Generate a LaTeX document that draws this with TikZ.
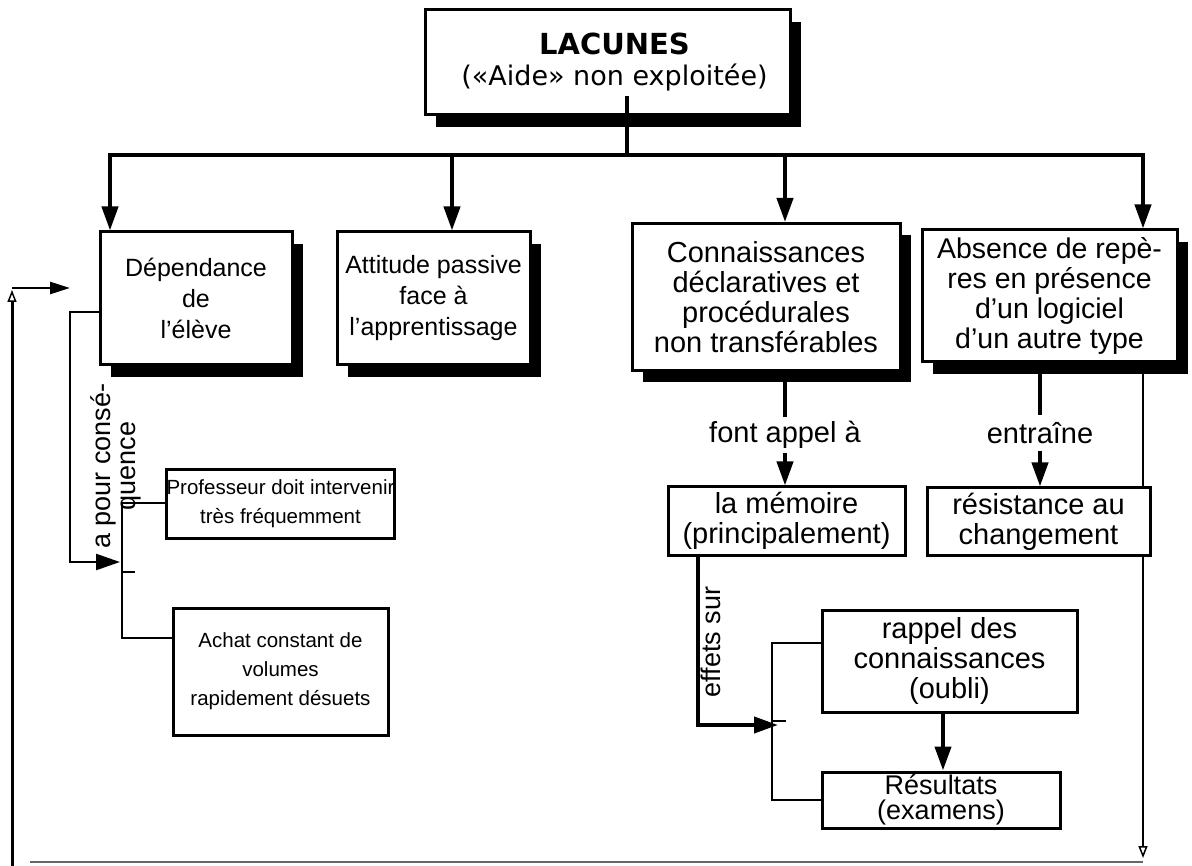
\documentclass[tikz,border=0pt]{standalone}
\usepackage{fontspec}
\setmainfont{Liberation Sans}
\newfontfamily\titlefont{DejaVu Sans}
\usetikzlibrary{arrows.meta,shadows,backgrounds}

\begin{document}
\begin{tikzpicture}[x=1pt,y=-1pt,
  every node/.style={font=\fontsize{25}{31}\selectfont},
  box/.style={draw, line width=3pt, fill=white, align=center, inner sep=0pt},
  shadowed/.style={drop shadow={shadow xshift=11pt, shadow yshift=-12pt, fill=black, opacity=1}},
  bigbox/.style={box, font=\fontsize{29}{30}\selectfont},
  smallbox/.style={box, font=\fontsize{29}{30}\selectfont},
  leftbox/.style={box, font=\fontsize{20.5}{29}\selectfont},
  bar/.style={line width=4pt},
  link/.style={line width=2.5pt},
  bracket/.style={line width=2pt},
  tip/.style={-{Triangle[length=24pt,width=16pt]}},
  opentip/.style={-{Triangle[open,length=12pt,width=9pt,line width=1.5pt]}},
  lbl/.style={font=\fontsize{29}{30}\selectfont, inner sep=4pt},
  vlbl/.style={rotate=90, align=center, inner sep=0pt},
]
\useasboundingbox (0,0) rectangle (1192,866);

% ---------- title ----------
\node[box, shadowed, minimum width=365pt, minimum height=105pt,
      font=\titlefont\fontsize{27}{31}\selectfont] (top) at (607.5,62.5)
  {\hspace*{14pt}{\fontsize{29}{31}\selectfont\bfseries LACUNES}\\\hspace*{14pt}(«Aide» non exploitée)};

% ---------- the four consequences ----------
\node[box, shadowed, minimum width=192pt, minimum height=133pt] (dep) at (196,298.5)
  {Dépendance\\de\\l'élève};
\node[box, shadowed, minimum width=193pt, minimum height=133pt] (att) at (433.5,298.5)
  {Attitude passive\\face à\\l'apprentissage};
\node[bigbox, shadowed, minimum width=268pt, minimum height=147pt] (conn) at (766,297)
  {Connaissances\\déclaratives et\\procédurales\\non transférables};
\node[bigbox, shadowed, minimum width=255pt, minimum height=132pt,
      font=\fontsize{28.5}{30}\selectfont] (abs) at (1049.5,296)
  {Absence de repè-\\res en présence\\d'un logiciel\\d'un autre type};

% ---------- distribution bar ----------
\coordinate (hub)  at (627,155);
\coordinate (barL) at (108,155);
\coordinate (barR) at (1145,155);
\coordinate (d1) at (110,155);
\coordinate (d2) at (452,155);
\coordinate (d3) at (785,155);
\coordinate (d4) at (1143,155);
\draw[bar] ([yshift=20pt]top.south -| hub) -- (hub);
\draw[bar] (barL) -- (barR);
\draw[bar,tip] (d1) -- (d1 |- dep.north);
\draw[bar,tip] (d2) -- (d2 |- att.north);
\draw[bar,tip] (d3) -- (d3 |- conn.north);
\draw[bar,tip] (d4) -- (d4 |- abs.north);

% ---------- return loop ----------
\coordinate (rTop) at (1143,372);
\coordinate (rBot) at (1143,858);
\coordinate (bR)   at (1143,862);
\coordinate (bL)   at (30,862);
\coordinate (lBot) at (12,866);
\coordinate (lTop) at (12,290);
\coordinate (lIn)  at (70,288);
\begin{scope}[on background layer]
  \draw[link,opentip] (rTop) -- (rBot);
  \draw[line width=1.5pt, black!60] (bR) -- (bL);
  \draw[line width=3pt,opentip] (lBot) -- (lTop);
  \draw[link,-{Triangle[length=20pt,width=12pt]}] (lTop |- lIn) -- (lIn);
\end{scope}

% ---------- left branch ----------
\node[leftbox, minimum width=215pt, minimum height=68pt] (prof) at (280.5,504)
  {Professeur doit intervenir\\très fréquemment};
\node[leftbox, minimum width=215pt, minimum height=127pt] (achat) at (280.5,671.5)
  {Achat constant de\\volumes\\rapidement désuets};

\coordinate (cL) at (70,312);
\coordinate (cA) at (120,562);
\draw[link,tip] (dep.west |- cL) -- (cL) -- (cL |- cA) -- (cA);
\node[vlbl, font=\fontsize{27}{25}\selectfont] (cons) at (116,466) {a pour consé-\\quence};

\coordinate (bk1) at (122,503);
\coordinate (bk2) at (122,638);
\draw[bracket] (prof.west |- bk1) -- (bk1) -- (bk2) -- (achat.west |- bk2);
\draw[bracket] (122,572) -- (135,572);

% ---------- memory branch ----------
\node[lbl] (fa) at (785,435) {font appel à};
\node[smallbox, minimum width=237pt, minimum height=68pt] (mem) at (786.5,521)
  {la mémoire\\(principalement)};
\draw[bar] (conn.south -| fa) -- (fa.north);
\draw[bar,tip] (fa.south) -- (mem.north -| fa);

\node[smallbox, minimum width=255pt, minimum height=102pt] (rap) at (949.5,661)
  {rappel des\\connaissances\\(oubli)};
\node[smallbox, minimum width=238pt, minimum height=56pt,
      font=\fontsize{27}{25}\selectfont] (res) at (941,800)
  {Résultats\\(examens)};
\draw[bar,tip] (rap.south -| 943,0) -- (res.north -| 943,0);

\coordinate (eTop) at (698,555);
\coordinate (eCor) at (698,725);
\coordinate (eEnd) at (778,725);
\draw[bar,tip] (mem.south -| eTop) -- (eCor) -- (eEnd);
\node[vlbl, font=\fontsize{27}{25}\selectfont] (eff) at (711,642) {effets sur};

\coordinate (bk3) at (772,643);
\coordinate (bk4) at (772,800);
\draw[bracket] (rap.west |- bk3) -- (bk3) -- (bk4) -- (res.west |- bk4);
\draw[bracket] (772,721) -- (786,721);

% ---------- resistance branch ----------
\node[lbl, inner sep=7pt] (ent) at (1040,433) {entraîne};
\node[smallbox, minimum width=223pt, minimum height=67pt] (resi) at (1038.5,521.5)
  {résistance au\\changement};
\draw[bar] (abs.south -| ent) -- (ent.north);
\draw[bar,tip] (ent.south) -- (resi.north -| ent);
\end{tikzpicture}
\end{document}
